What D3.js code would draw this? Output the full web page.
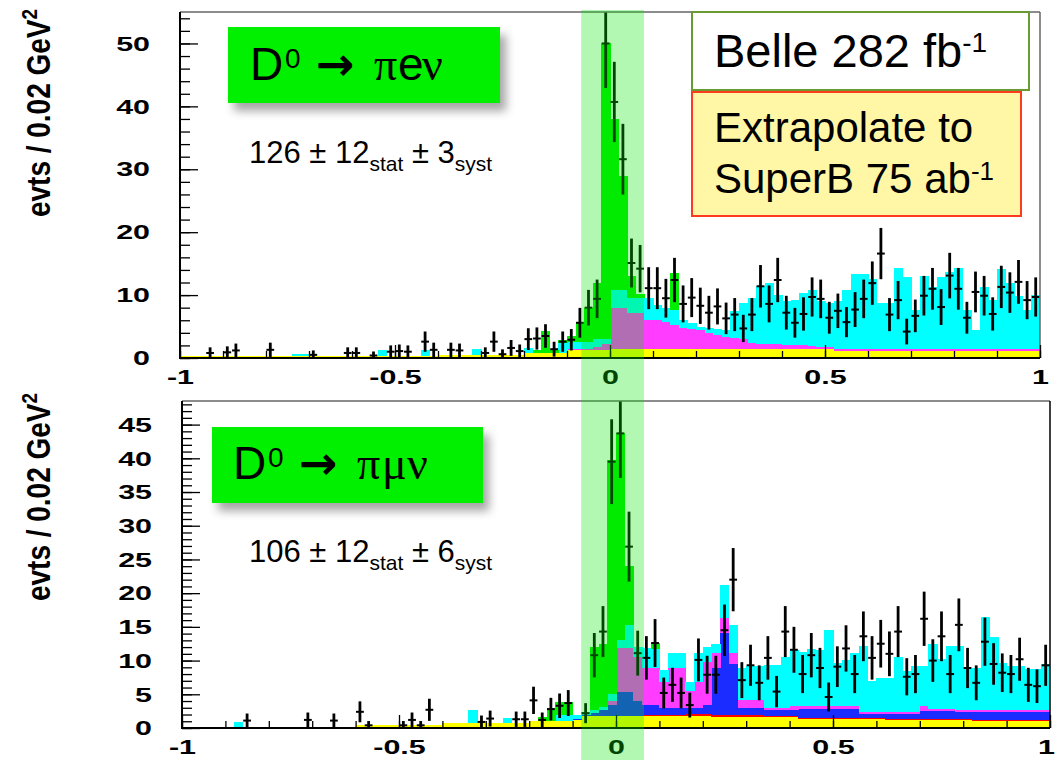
<!DOCTYPE html>
<html>
<head>
<meta charset="utf-8">
<script src="https://cdn.jsdelivr.net/npm/d3@7"></script>
<style>
  body { margin: 0; background: #fff; }
  svg { display: block; font-family: Arial, "Liberation Sans", sans-serif; }
</style>
</head>
<body>
<svg id="chart" width="1057" height="760"></svg>
<script>
// 100 bins of 0.02 from -1 to 1 (lower edges)
const binLow = d3.range(100).map(i => +(-1 + 0.02 * i).toFixed(2));
const xLabels = [-1, -0.5, 0, 0.5, 1];
const signalWindow = [-0.067, 0.079];

// ---- D0 -> pi e nu (upper plot)
const topYellow = [
  0.3,0.3,0.3,0.3,0.3,0.3,0.3,0.3,0.3,0.3, 0.3,0.3,0.3,0.3,0.3,0.3,0.3,0.3,0.3,0.3,
  0.3,0.3,0.3,0.3,0.3,0.3,0.3,0.3,0.3,0.3, 0.5,0.5,0.5,0.5,0.5,0.5,0.5,0.5,0.5,0.5,
  0.8,0.8,0.8,0.8,0.8,1.2,1.2,1.2,1.2,1.2, 1.5,1.5,1.5,1.5,1.5,1.5,1.5,1.5,1.5,1.5,
  1.5,1.4,1.4,1.4,1.4,1.4,1.4,1.4,1.4,1.4, 1.4,1.4,1.4,1.4,1.4,1.4,1.1,1.1,1.1,1.1,
  1.1,1.1,1.1,1.1,1.1,1.1,1.1,1.1,1.1,1.1, 1.1,1.1,1.1,1.1,1.1,1.1,1.1,1.1,1.1,1.1
];
const topMagenta = [
  0,0,0,0,0,0,0,0,0,0, 0,0,0,0,0,0,0,0,0,0,
  0,0,0,0,0,0,0,0,0,0, 0,0,0,0,0,0,0,0,0,0,
  0,0,0,0,0,0.2,0.2,0.2,0.5,1.0, 6.5,6.5,5.7,5.7,4.6,4.6,4.3,3.7,3.2,3.1,
  3.0,2.6,2.2,2.0,1.8,1.6,1.0,0.9,0.8,0.8, 0.7,0.7,0.6,0.5,0.4,0.4,0.3,0.3,0.3,0.3,
  0.3,0.3,0.3,0.3,0.3,0.3,0.3,0.3,0.3,0.3, 0.3,0.3,0.3,0.3,0.3,0.3,0.3,0.3,0.3,0.3
];
const topCyan = [
  0,0,0,0,0,0,0,0,0,0, 0,0,0,0.3,0.3,0,0,0,0,0,
  0,0,0,1.0,0,0,0,0,0.9,0, 0,0,0,0,1.0,0,0,0,0,0,
  0.8,0,0,0,1.6,1.1,1.1,1.1,1.3,0.8, 2.8,2.8,2.4,2.4,3.5,2.4,2.2,2.4,1.3,0.9,
  0.5,0.8,1.0,1.1,4.3,5.8,7.1,9.2,9.8,7.8, 6.9,7.1,8.4,8.9,7.2,7.0,7.6,9.4,11.9,11.9,
  11.1,7.4,7.4,12.9,11.4,6.3,11.6,9.9,11.4,12.3, 12.9,6.3,3.1,9.9,7.8,12.8,10.6,8.4,6.3,8.6
];
const topSignal = [
  0,0,0,0,0,0,0,0,0,0, 0,0,0,0,0,0,0,0,0,0,
  0,0,0,0,0,0,0,0,0,0, 0,0,0,0,0,0,0,0,0,0,
  0,0.5,3.5,0.5,0.5,1.0,3.1,5.5,9.0,47.0, 27.2,18.2,3.4,0.5,0,0,0,5.9,0,0,
  0,0,0,0,0,0,0,0,0,0, 0,0,0,0,0,0,0,0,0,0,
  0,0,0,0,0,0,0,0,0,0, 0,0,0,0,0,0,0,0,0,0
];
const topData = [
  null,null,null,0.8,null,0.9,1.2,null,null,null, 1.3,null,null,null,null,0.5,null,null,null,0.8,
  0.8,null,0.4,null,1.0,1.1,1.0,null,2.6,1.3, null,1.3,1.2,null,null,0.8,2.6,0.6,1.6,1.1,
  3.0,3.1,3.5,1.4,2.6,2.9,5.6,8.0,9.4,50, 40.7,31.6,15.1,14.2,11.1,11.1,9.5,12.4,8.6,9.6,
  8.3,7.2,8.2,6.3,6.9,4.7,6.9,11.4,8.6,12.4, 7.2,5.6,7.0,9.7,9.4,6.4,7.5,5.7,7.7,9.4,
  11.9,16.6,6.9,9.2,4.2,6.7,9.9,11.0,8.1,13.1, 11.0,6.4,10.5,9.9,7.0,11.3,10.4,12.1,9.2,9.7
];

// ---- D0 -> pi mu nu (lower plot)
const botYellow = [
  0.2,0.2,0.2,0.2,0.2,0.2,0.2,0.2,0.2,0.2, 0.2,0.2,0.2,0.2,0.2,0.2,0.2,0.2,0.2,0.2,
  0.5,0.5,0.5,0.5,0.5,0.5,0.5,0.5,0.5,0.5, 0.8,0.8,0.8,0.8,0.8,0.8,0.8,0.8,0.8,0.8,
  1.0,1.0,1.0,1.0,1.0,1.2,1.8,1.8,1.8,1.8, 1.8,1.8,1.8,1.8,1.8,1.8,1.8,1.8,1.8,1.8,
  1.8,1.7,1.7,1.7,1.7,1.7,1.7,1.6,1.6,1.6, 1.6,1.4,1.4,1.4,1.4,1.4,1.4,1.4,1.4,1.4,
  1.4,1.2,1.2,1.2,1.2,1.2,1.2,1.2,1.2,1.2, 1.2,1.0,1.0,1.0,1.0,1.0,1.0,1.0,1.0,1.0
];
const botRed = [
  0,0,0,0,0,0,0,0,0,0, 0,0,0,0,0,0,0,0,0,0,
  0,0,0,0,0,0,0,0,0,0, 0,0,0,0,0,0,0,0,0,0,
  0,0,0,0,0,0,0,0,0,0, 0,0,0,0.15,0.15,0.15,0.15,0.15,0.25,0.25,
  0.25,0.25,0.25,0.25,0.25,0.25,0.25,0.15,0.15,0.15, 0.15,0.15,0.15,0.15,0.15,0.15,0.15,0.15,0.15,0.15,
  0.15,0.15,0.15,0.15,0.15,0.15,0.15,0.15,0.15,0.15, 0.15,0.15,0.15,0.15,0.15,0.15,0.15,0.15,0.15,0.15
];
const botBlue = [
  0,0,0,0,0,0,0,0,0,0, 0,0,0,0,0,0,0,0,0,0,
  0,0,0,0,0,0,0,0,0,0, 0,0,0,0,0,0,0,0,0,0,
  0,0,0,0,0,0.1,0.2,0.4,0.8,1.6, 3.6,3.6,2.2,1.4,1.4,1.0,1.0,1.0,0.9,0.9,
  1.4,7.0,12.1,7.6,1.0,1.0,1.0,0.85,0.85,0.85, 0.85,1.25,1.25,1.25,1.25,1.25,1.25,1.25,0.55,0.55,
  0.55,0.75,0.75,0.75,0.75,1.15,1.15,1.15,1.15,0.95, 0.95,1.15,1.15,1.25,1.25,1.25,1.25,1.25,1.25,1.25
];
const botMagenta = [
  0,0,0,0,0,0,0,0,0,0, 0,0,0,0,0,0,0,0,0,0,
  0,0,0,0,0,0,0,0,0,0, 0,0,0,0,0,0,0,0,0,0,
  0,0,0,0,0,0,0,0,0,0.6, 6.4,6.4,6.5,5.5,5.5,3.9,6.0,6.0,2.6,3.9,
  6.3,2.1,2.2,1.5,1.2,1.2,1.2,0.3,0.3,0.3, 0.6,0.4,0.4,0.4,0.4,0.4,0.4,0.4,0.3,0.3,
  0.3,0.3,0.3,0.3,0.3,0.8,0.3,0.3,0.3,0.3, 0.3,0.3,0.3,0.3,0.3,0.3,0.3,0.3,0.3,0.3
];
const botCyan = [
  0,0,0,0,0,0,0.7,0,0,0, 0,0,0,0,0,0,0,0,0,0,
  0,0,0,0,0,0,0,0,0,0, 0,0,0,1.8,0,0,0,0.7,0,0,
  0,0,0,0.9,0.9,0.6,0.3,0.5,0.5,1.0, 1.2,3.5,1.5,3.0,2.9,1.8,2.1,2.1,1.3,4.2,
  2.3,1.4,4.9,4.2,4.8,5.1,5.1,6.4,6.4,7.6, 8.4,8.1,8.5,8.4,11.3,6.4,6.9,7.9,9.8,4.5,
  5.0,5.0,8.2,6.0,6.8,5.9,9.6,7.5,9.3,9.6, 6.2,6.3,13.8,10.8,6.9,6.5,6.5,6.1,6.0,6.8
];
const botSignal = [
  0,0,0,0,0,0,0,0,0,0, 0,0,0,0,0,0,0,0,0,0,
  0,0,0,0,0,0,0,0,0,0, 0,0,0,0,0,0,0,0,0,0,
  0,0.6,1.9,2.0,2.0,0,0,9.3,9.4,34.8, 30.8,8.7,0,0,0.8,0,0,0,0,0,
  0,0,0,0,0,0,0,0,0,0, 0,0,0,0,0,0,0,0,0,0,
  0,0,0,0,0,0,0,0,0,0, 0,0,0,0,0,0,0,0,0,0
];
const botData = [
  null,null,null,null,null,null,null,1.1,null,null, null,null,null,null,1.2,null,null,1.1,null,null,
  2.4,0.4,null,null,null,0.4,1.2,0.4,2.7,null, null,null,null,null,0.9,1.4,null,null,1.3,1.3,
  4.1,1.2,2.8,3.3,3.7,null,2.2,10.8,14.3,39.5, 43.7,26.9,11.1,10.4,12.6,5.2,6.4,5.2,3.4,10.1,
  7.9,7.9,14.5,22.0,7.1,9.3,6.7,10.4,5.4,14.3, 11.6,8.0,10.8,8.9,4.6,9.1,11.8,8.0,13.6,10.4,
  12.5,11.0,14.3,7.6,8.0,16.2,10.0,13.6,8.0,15.3, 8.9,6.7,12.8,9.5,8.2,8.0,10.2,6.4,6.2,9.3
];

const colors = {
  yellow: '#ffff00', red: '#ff0000', blue: '#1a2cff', magenta: '#ff3cff',
  cyan: '#00ffff', signal: '#00ee00'
};
const stretch = 1.45;   // the original figure is stretched sideways

const svg = d3.select('#chart');
const defs = svg.append('defs');
defs.append('filter').attr('id', 'shadow')
    .attr('x', '-10%').attr('y', '-20%').attr('width', '130%').attr('height', '160%')
  .append('feDropShadow')
    .attr('dx', 6).attr('dy', 8).attr('stdDeviation', 5)
    .attr('flood-color', '#000').attr('flood-opacity', 0.35);

const panels = [
  { name: 'top', left: 180, right: 1040, top: 12, bottom: 358, yMax: 55,
    yLabels: [0, 10, 20, 30, 40, 50], yMinor: d3.range(0, 55, 2),
    rightColor: '#666', titleY: 113, lastShift: 0,
    keys: ['yellow', 'magenta', 'cyan', 'signal'],
    layers: { yellow: topYellow, magenta: topMagenta, cyan: topCyan, signal: topSignal },
    data: topData },
  { name: 'bot', left: 182, right: 1050, top: 401, bottom: 728, yMax: 48.5,
    yLabels: [0, 5, 10, 15, 20, 25, 30, 35, 40, 45], yMinor: d3.range(0, 49, 1),
    rightColor: '#000', titleY: 497, lastShift: -4,
    keys: ['yellow', 'red', 'blue', 'magenta', 'cyan', 'signal'],
    layers: { yellow: botYellow, red: botRed, blue: botBlue, magenta: botMagenta, cyan: botCyan, signal: botSignal },
    data: botData }
];

let bandScale;
panels.forEach(drawPanel);

function drawPanel(p) {
  const x = d3.scaleLinear().domain([-1, 1]).range([p.left, p.right]);
  const y = d3.scaleLinear().domain([0, p.yMax]).range([p.bottom, p.top]);
  if (!bandScale) bandScale = x;

  const rows = binLow.map((lo, i) => {
    const r = { lo: lo };
    p.keys.forEach(k => { r[k] = p.layers[k][i]; });
    return r;
  });
  const series = d3.stack().keys(p.keys)(rows);

  defs.append('clipPath').attr('id', 'clip-' + p.name)
    .append('rect')
      .attr('x', p.left).attr('y', p.top)
      .attr('width', p.right - p.left).attr('height', p.bottom - p.top);

  const g = svg.append('g');
  const plot = g.append('g').attr('clip-path', `url(#clip-${p.name})`);

  // stacked histograms
  plot.selectAll('g.layer').data(series).join('g')
      .attr('class', 'layer')
      .attr('fill', d => colors[d.key])
    .selectAll('rect').data(d => d).join('rect')
      .attr('x', d => x(d.data.lo))
      .attr('width', d => x(d.data.lo + 0.02) - x(d.data.lo) + 0.6)
      .attr('y', d => y(d[1]))
      .attr('height', d => Math.max(0, y(d[0]) - y(d[1])))
      .attr('shape-rendering', 'crispEdges');

  // data points with sqrt(N) error bars
  const pts = binLow.map((lo, i) => ({ lo: lo, v: p.data[i] })).filter(d => d.v !== null);
  const pg = plot.selectAll('g.pt').data(pts).join('g').attr('class', 'pt')
      .attr('stroke', '#000');
  pg.append('line')
      .attr('x1', d => x(d.lo + 0.01)).attr('x2', d => x(d.lo + 0.01))
      .attr('y1', d => y(d.v - Math.sqrt(d.v))).attr('y2', d => y(d.v + Math.sqrt(d.v)))
      .attr('stroke-width', 2.8);
  pg.append('line')
      .attr('x1', d => x(d.lo + 0.001)).attr('x2', d => x(d.lo + 0.019))
      .attr('y1', d => y(d.v)).attr('y2', d => y(d.v))
      .attr('stroke-width', 2);

  // frame
  g.append('line').attr('x1', p.left).attr('x2', p.right).attr('y1', p.top).attr('y2', p.top)
      .attr('stroke', '#666').attr('stroke-width', 1.5);
  g.append('line').attr('x1', p.right).attr('x2', p.right).attr('y1', p.top).attr('y2', p.bottom)
      .attr('stroke', p.rightColor).attr('stroke-width', 1.5);

  // y axis
  const yMinor = g.append('g').attr('transform', `translate(${p.left},0)`)
      .call(d3.axisLeft(y).tickValues(p.yMinor).tickSizeInner(-10).tickSizeOuter(0).tickFormat(''));
  yMinor.select('.domain').remove();
  const yMajor = g.append('g').attr('transform', `translate(${p.left},0)`)
      .call(d3.axisLeft(y).tickValues(p.yLabels).tickSizeInner(-18).tickSizeOuter(0).tickPadding(30));
  yMajor.select('.domain').remove();
  yMajor.selectAll('text')
      .attr('x', -30 / stretch)
      .attr('transform', `scale(${stretch},1)`)
      .attr('font-size', 21).attr('font-weight', 'bold').attr('fill', '#000')
      .attr('font-family', 'Arial, "Liberation Sans", sans-serif');

  // x axis
  const xMinor = g.append('g').attr('transform', `translate(0,${p.bottom})`)
      .call(d3.axisBottom(x).ticks(20).tickSizeInner(-7).tickSizeOuter(0).tickFormat(''));
  xMinor.select('.domain').remove();
  const xAxis = g.append('g').attr('transform', `translate(0,${p.bottom})`)
      .call(d3.axisBottom(x).tickValues(xLabels).tickSizeInner(-13).tickSizeOuter(0)
        .tickPadding(11).tickFormat(d => String(d)));
  xAxis.select('.domain').remove();
  xAxis.selectAll('text')
      .attr('transform', `scale(${stretch},1)`)
      .attr('x', d => (d === 1 ? p.lastShift : 0) / stretch)
      .attr('font-size', 21).attr('font-weight', 'bold').attr('fill', '#000')
      .attr('font-family', 'Arial, "Liberation Sans", sans-serif');
  g.selectAll('.tick line').attr('stroke', '#000').attr('stroke-width', 1.3);

  g.append('line').attr('x1', p.left).attr('x2', p.left).attr('y1', p.top).attr('y2', p.bottom + 1)
      .attr('stroke', '#000').attr('stroke-width', 2);
  g.append('line').attr('x1', p.left - 1).attr('x2', p.right).attr('y1', p.bottom).attr('y2', p.bottom)
      .attr('stroke', '#000').attr('stroke-width', 2);

  // y title
  const t = svg.append('text')
      .attr('transform', `translate(50,${p.titleY}) scale(1.2,1) rotate(-90)`)
      .attr('text-anchor', 'middle')
      .attr('font-size', 28).attr('font-weight', 'bold');
  t.append('tspan').text('evts / 0.02 GeV');
  t.append('tspan').attr('dy', -11).attr('font-size', 19).text('2');
}

// signal window band, drawn over both plots
svg.append('rect')
    .attr('x', bandScale(signalWindow[0]))
    .attr('width', bandScale(signalWindow[1]) - bandScale(signalWindow[0]))
    .attr('y', 10).attr('height', 750)
    .attr('fill', 'rgba(0,230,0,0.3)');

// decay labels
function decayLabel(bx, by, bw, bh, tx, ty, leptonGlyphs) {
  svg.append('rect').attr('x', bx).attr('y', by).attr('width', bw).attr('height', bh)
      .attr('fill', '#00f000').attr('filter', 'url(#shadow)');
  const t = svg.append('text').attr('x', tx).attr('y', ty).attr('font-size', 46).attr('fill', '#000');
  t.append('tspan').text('D');
  t.append('tspan').attr('x', tx + 35).attr('dy', -12).attr('font-size', 28).text('0');
  t.append('tspan').attr('x', tx + 66).attr('dy', 12).attr('font-size', 46).attr('font-weight', 'bold')
      .attr('font-family', '"DejaVu Sans", sans-serif').text('→');
  leptonGlyphs.forEach(s => {
    t.append('tspan').attr('x', tx + s.dx).attr('font-weight', 'normal')
        .attr('font-family', s.serif ? '"Liberation Serif", "DejaVu Serif", serif' : 'Arial, "Liberation Sans", sans-serif')
        .text(s.c);
  });
}
decayLabel(228, 27, 272, 76, 250, 80,
  [{ c: 'π', dx: 124, serif: true }, { c: 'e', dx: 148 }, { c: 'ν', dx: 172, serif: true }]);
decayLabel(212, 427, 271, 76, 233, 479,
  [{ c: 'π', dx: 124, serif: true }, { c: 'μ', dx: 149, serif: true }, { c: 'ν', dx: 174, serif: true }]);

function yieldText(tx, ty, n, stat, syst) {
  const t = svg.append('text').attr('x', tx).attr('y', ty).attr('font-size', 31).attr('fill', '#000');
  t.append('tspan').text(`${n} ± ${stat}`);
  t.append('tspan').attr('dy', 8).attr('font-size', 21).text('stat');
  t.append('tspan').attr('dy', -8).text(` ± ${syst}`);
  t.append('tspan').attr('dy', 8).attr('font-size', 21).text('syst');
}
yieldText(249, 163, 126, 12, 3);
yieldText(249, 562, 106, 12, 6);

// luminosity boxes
svg.append('rect').attr('x', 692).attr('y', 12).attr('width', 337).attr('height', 78)
    .attr('fill', '#fff').attr('stroke', '#6a9a32').attr('stroke-width', 2);
const belle = svg.append('text').attr('x', 714).attr('y', 67).attr('font-size', 47);
belle.append('tspan').text('Belle 282 fb');
belle.append('tspan').attr('dy', -15).attr('font-size', 28).text('-1');

svg.append('rect').attr('x', 692).attr('y', 92).attr('width', 329).attr('height', 124)
    .attr('fill', '#fff6a6').attr('stroke', '#ff3b1f').attr('stroke-width', 2);
svg.append('text').attr('x', 714).attr('y', 142).attr('font-size', 42).text('Extrapolate to');
const superb = svg.append('text').attr('x', 714).attr('y', 193).attr('font-size', 42);
superb.append('tspan').text('SuperB 75 ab');
superb.append('tspan').attr('dy', -13).attr('font-size', 26).text('-1');
</script>
</body>
</html>
